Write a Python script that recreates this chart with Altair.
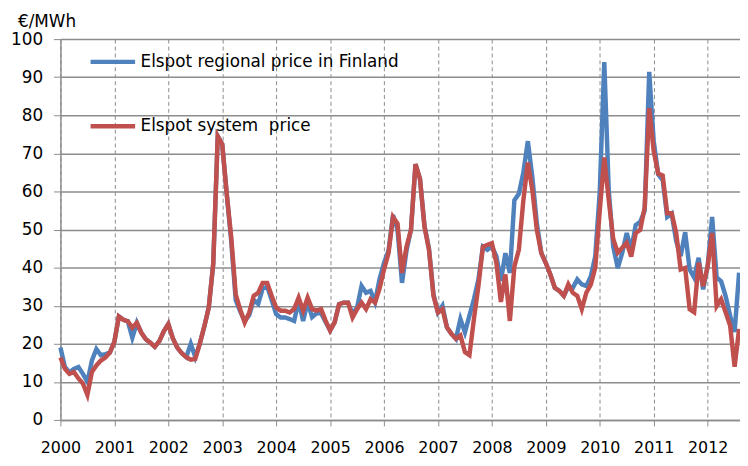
import altair as alt
import pandas as pd

# Monthly prices, Jan 2000 .. Aug 2012 (EUR/MWh)
system_price = [
    # 2000
    16.4, 13.4, 12.1, 12.6, 10.9, 9.6, 6.6, 12.6, 14.3, 15.6, 16.4, 17.7,
    # 2001
    20.5, 27.2, 26.3, 25.9, 24.2, 25.5, 22.9, 21.2, 20.3, 19.2, 20.7, 23.3,
    # 2002
    25.2, 21.5, 19.0, 17.5, 16.5, 15.8, 16.0, 20.0, 24.5, 29.5, 41.0, 74.5,
    # 2003
    72.4, 59.4, 48.0, 33.0, 29.0, 25.6, 28.2, 32.6, 33.4, 36.0, 36.0, 32.6,
    # 2004
    29.5, 28.7, 28.7, 28.2, 29.1, 32.1, 28.7, 32.1, 29.1, 28.7, 29.1, 26.1,
    # 2005
    23.5, 25.6, 30.4, 30.8, 30.8, 26.9, 29.1, 30.8, 29.1, 31.7, 30.8, 34.5,
    # 2006
    39.5, 43.8, 53.3, 51.6, 38.6, 45.5, 49.9, 67.2, 63.3, 50.7, 44.7, 32.6,
    # 2007
    28.2, 29.1, 24.3, 22.6, 21.3, 22.2, 17.8, 17.0, 26.5, 35.2, 45.5, 46.0,
    # 2008
    46.4, 41.2, 31.0, 38.2, 26.0, 40.3, 44.7, 57.7, 67.6, 60.3, 49.9, 43.8,
    # 2009
    41.2, 38.2, 34.7, 33.9, 32.6, 35.6, 33.4, 32.6, 29.1, 33.4, 35.5, 40.0,
    # 2010
    55.0, 68.9, 57.7, 47.5, 43.9, 45.2, 46.5, 42.9, 49.1, 49.9, 55.9, 81.9,
    # 2011
    70.6, 64.7, 64.2, 54.3, 54.3, 49.1, 39.5, 39.9, 29.1, 28.3, 41.3, 35.1,
    # 2012
    40.3, 49.1, 29.9, 31.7, 28.3, 24.8, 14.0, 23.9,
]

finland_price = [
    # 2000
    19.0, 13.9, 12.5, 13.4, 13.9, 12.1, 10.0, 15.6, 18.6, 17.0, 17.3, 17.7,
    # 2001
    20.5, 27.2, 26.3, 25.9, 21.6, 25.5, 22.9, 21.2, 20.3, 19.2, 20.7, 23.3,
    # 2002
    25.2, 21.5, 19.0, 17.5, 16.5, 20.0, 16.5, 20.0, 24.5, 29.5, 41.0, 74.5,
    # 2003
    72.4, 59.4, 47.0, 31.5, 28.5, 26.0, 27.5, 31.5, 30.5, 34.5, 35.0, 31.5,
    # 2004
    27.8, 26.9, 26.9, 26.5, 26.0, 31.3, 26.0, 31.0, 27.0, 28.0, 28.0, 25.7,
    # 2005
    23.5, 25.6, 30.4, 30.8, 30.8, 27.8, 29.5, 35.2, 33.4, 33.9, 31.0, 37.0,
    # 2006
    41.2, 44.5, 53.8, 50.0, 36.0, 44.5, 50.0, 67.2, 63.3, 51.0, 45.0, 33.0,
    # 2007
    28.2, 30.0, 24.3, 22.6, 21.3, 26.5, 23.0, 27.4, 31.7, 36.9, 45.5, 44.7,
    # 2008
    45.5, 43.0, 36.5, 43.8, 38.6, 57.7, 59.4, 65.0, 73.2, 63.7, 51.6, 43.8,
    # 2009
    41.2, 38.2, 34.7, 33.9, 32.6, 35.0, 34.7, 36.9, 35.6, 35.2, 37.7, 43.0,
    # 2010
    60.0, 94.0, 60.3, 45.5, 39.9, 43.9, 49.1, 44.7, 51.2, 52.0, 55.0, 91.4,
    # 2011
    73.2, 64.5, 63.0, 53.3, 54.2, 47.0, 43.0, 49.3, 39.5, 37.4, 42.6, 34.3,
    # 2012
    40.3, 53.3, 37.4, 36.4, 32.5, 27.4, 23.1, 38.7,
]

year_ticks = list(range(2000, 2013))
y_ticks = list(range(0, 101, 10))

series_fi = "Elspot regional price in Finland"
series_sys = "Elspot system\u00a0 price"

t = [2000 + i / 12 for i in range(len(system_price))]
df_fi = pd.DataFrame({"t": t, "price": finland_price, "series": series_fi})
df_sys = pd.DataFrame({"t": t, "price": system_price, "series": series_sys})

FONT = "DejaVu Sans"
GRID = "#8c8c8c"

color = alt.Color(
    "series:N",
    scale=alt.Scale(domain=[series_fi, series_sys], range=["#4F81BD", "#C0504D"]),
    legend=alt.Legend(
        title=None,
        orient="none",
        legendX=28,
        legendY=-2,
        direction="vertical",
        symbolType="stroke",
        symbolSize=2025,
        symbolStrokeWidth=4.5,
        labelFont=FONT,
        labelFontSize=17,
        labelColor="#000000",
        labelOffset=3,
        labelLimit=0,
        rowPadding=31,
        padding=0,
    ),
)

x = alt.X(
    "t:Q",
    scale=alt.Scale(domain=[2000, 2012.6], nice=False, zero=False),
    axis=alt.Axis(
        values=year_ticks,
        format="d",
        title=None,
        grid=True,
        gridDash=[4, 3],
        gridColor=GRID,
        gridWidth=1,
        domainColor=GRID,
        domainWidth=1.5,
        tickColor=GRID,
        tickSize=6,
        labelPadding=27,
        labelBaseline="alphabetic",
        labelFont=FONT,
        labelFontSize=16,
        labelColor="#000000",
        labelFlush=False,
        labelOverlap=False,
    ),
)

y = alt.Y(
    "price:Q",
    scale=alt.Scale(domain=[0, 100], nice=False),
    axis=alt.Axis(
        values=y_ticks,
        title="€/MWh",
        titleAngle=0,
        titleAlign="center",
        titleBaseline="middle",
        titleX=-14,
        titleY=-18,
        titleFont=FONT,
        titleFontSize=17,
        titleFontWeight="normal",
        titleColor="#000000",
        grid=True,
        gridColor=GRID,
        gridWidth=1.5,
        domainColor=GRID,
        domainWidth=1.5,
        tickColor=GRID,
        tickSize=7,
        labelPadding=11,
        labelFont=FONT,
        labelFontSize=17,
        labelColor="#000000",
    ),
)

line_fi = alt.Chart(df_fi).mark_line(strokeWidth=4.5).encode(x=x, y=y, color=color)
line_sys = alt.Chart(df_sys).mark_line(strokeWidth=4.5).encode(x=x, y=y, color=color)

chart = (
    alt.layer(line_fi, line_sys)
    .properties(
        width=687,
        height=385,
        autosize=alt.AutoSizeParams(type="none"),
        padding={"left": 53, "top": 29, "right": 0, "bottom": 36},
        background="white",
    )
    .configure_view(stroke=None)
)

chart.save("out.html", embed_options={"renderer": "svg", "actions": False})
